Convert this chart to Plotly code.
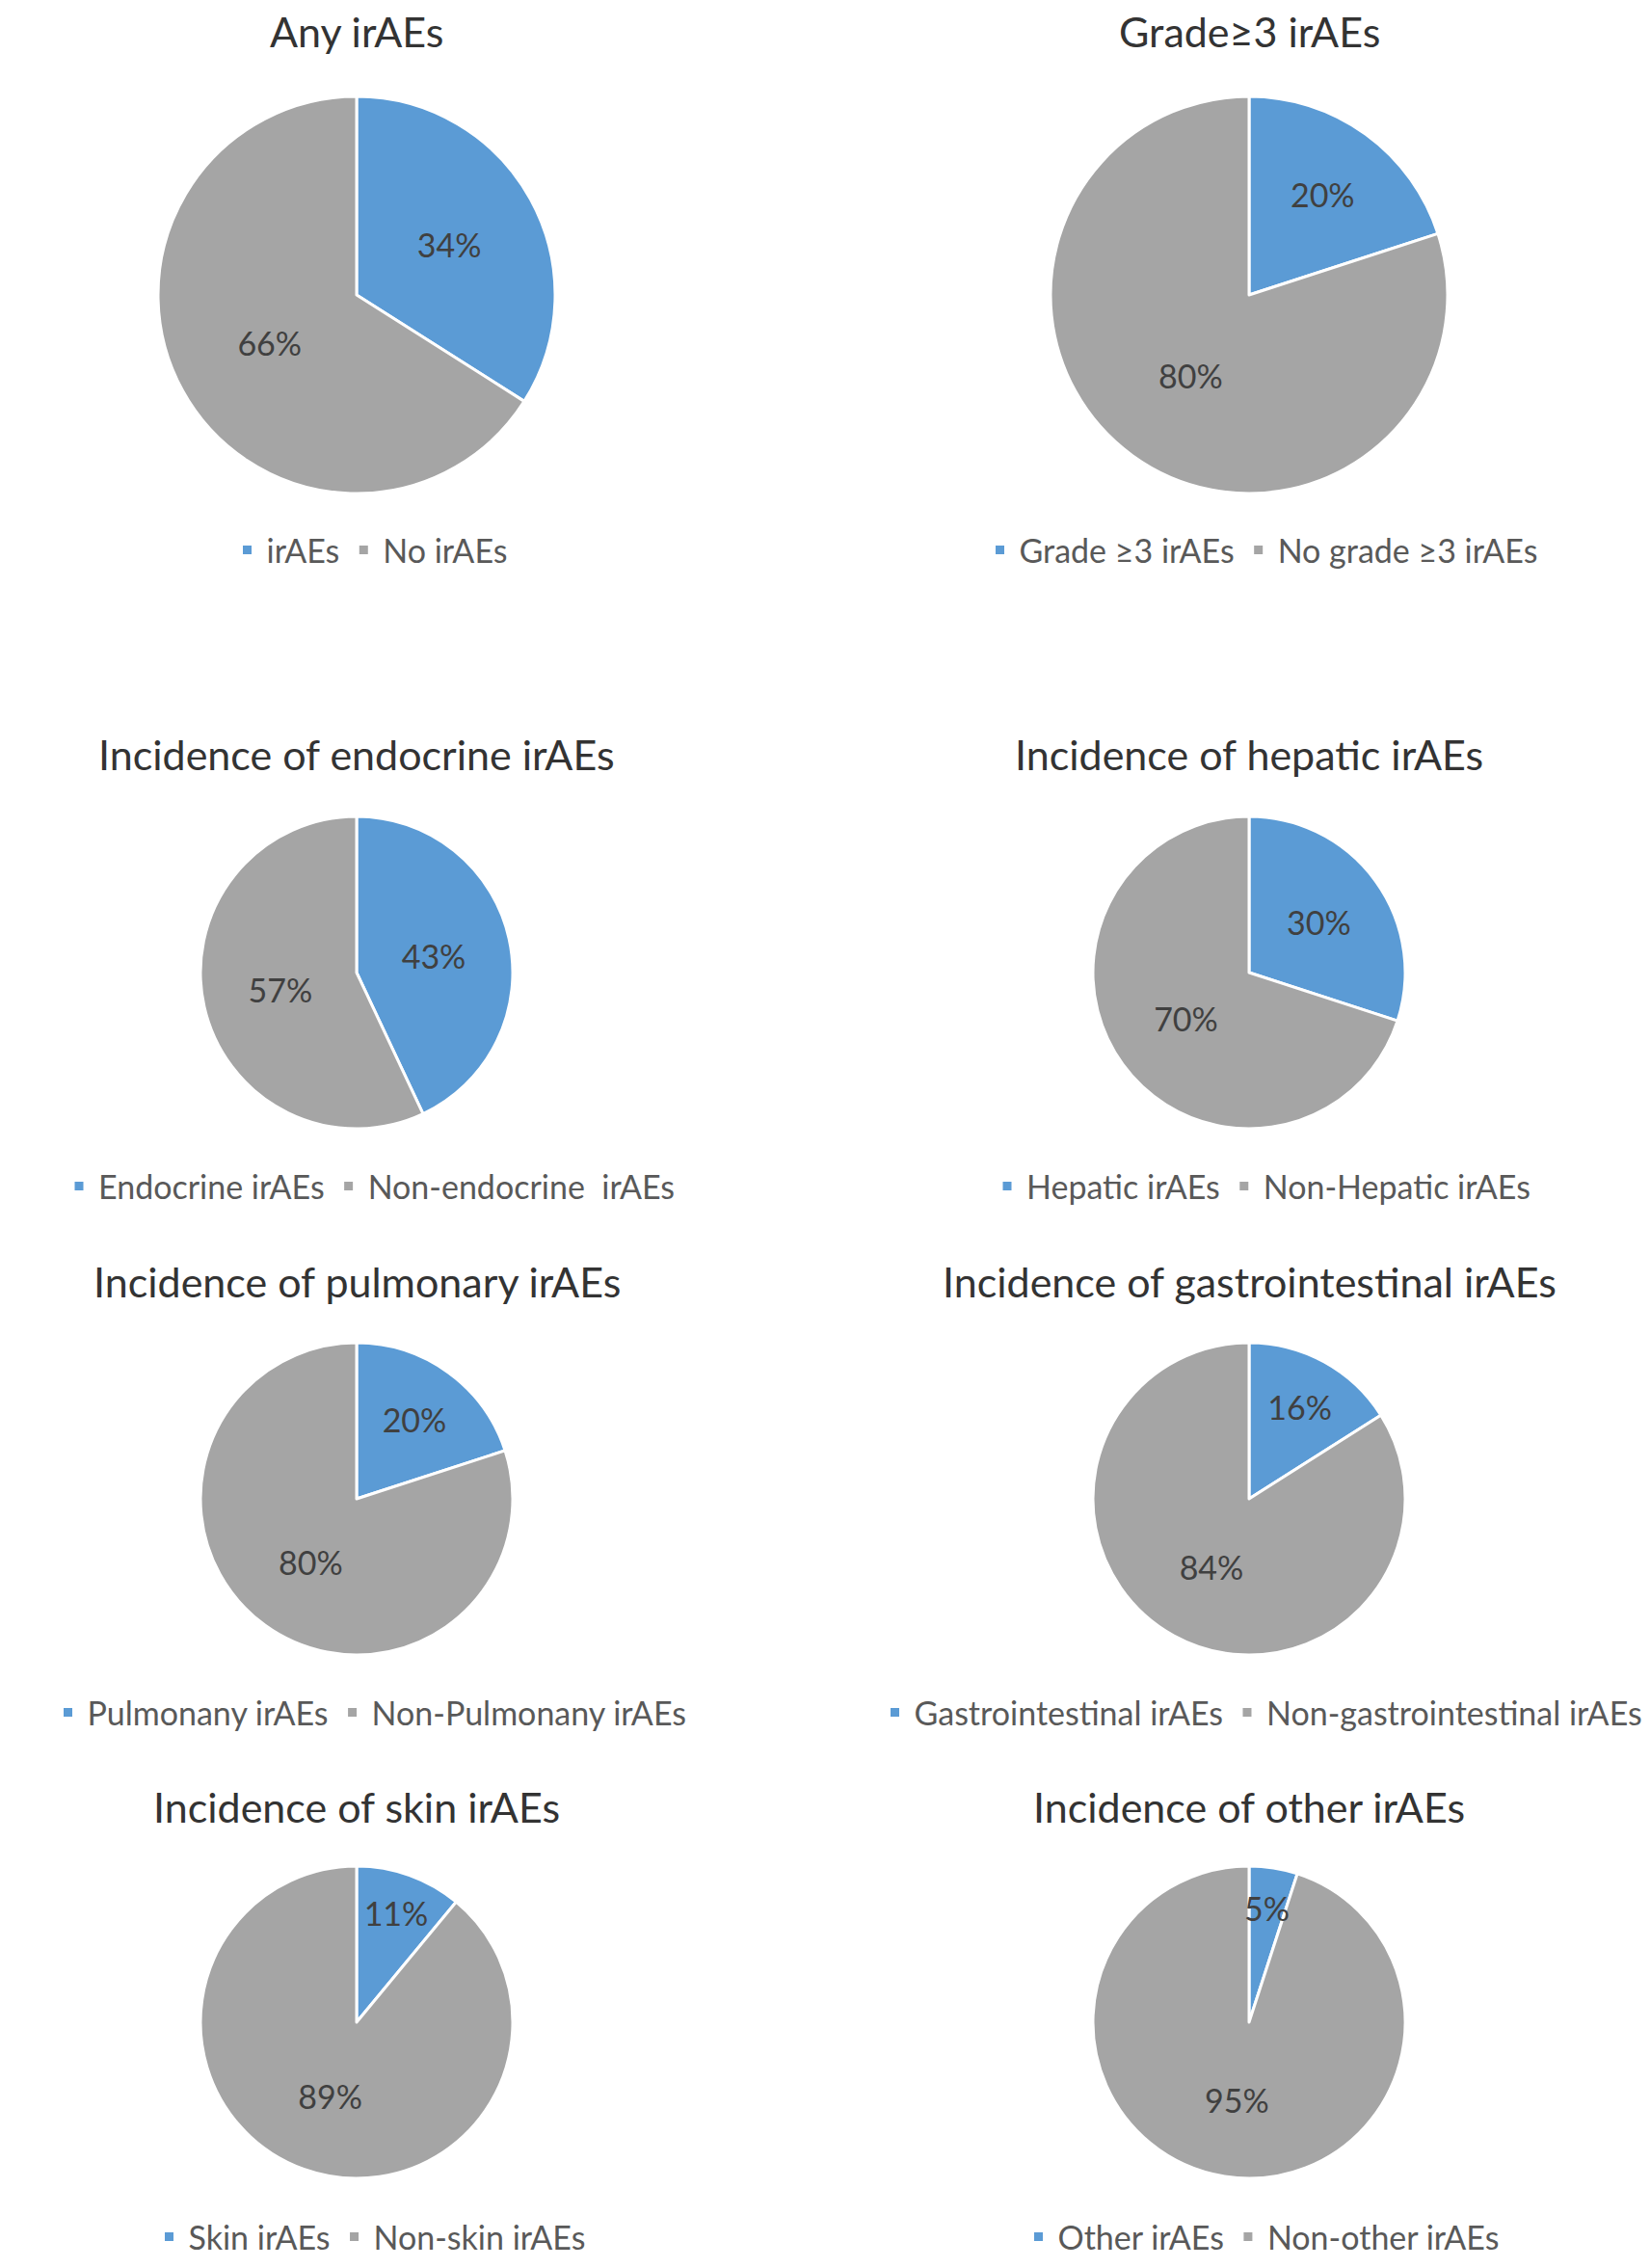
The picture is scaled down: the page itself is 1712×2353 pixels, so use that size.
import math
import plotly.graph_objects as go

# datos de cada panel (porcentajes)
titulos = [
    'Any irAEs', 'Grade≥3 irAEs',
    'Incidence of endocrine irAEs', 'Incidence of hepatic irAEs',
    'Incidence of pulmonary irAEs', 'Incidence of gastrointestinal irAEs',
    'Incidence of skin irAEs', 'Incidence of other irAEs',
]
etiquetas_si = [
    'irAEs', 'Grade ≥3 irAEs', 'Endocrine irAEs', 'Hepatic irAEs',
    'Pulmonany irAEs', 'Gastrointestinal irAEs', 'Skin irAEs', 'Other irAEs',
]
etiquetas_no = [
    'No irAEs', 'No grade ≥3 irAEs', 'Non-endocrine  irAEs', 'Non-Hepatic irAEs',
    'Non-Pulmonany irAEs', 'Non-gastrointestinal irAEs', 'Non-skin irAEs', 'Non-other irAEs',
]
pct_si = [34, 20, 43, 30, 20, 16, 11, 5]
pct_no = [66, 80, 57, 70, 80, 84, 89, 95]

# tamaño de la figura y ubicacion de cada panel (en pixeles)
W, H = 1712, 2353
col_x = [362, 1288]
leg_x = [376, 1301]
filas = [
    # (y titulo, y centro pie, radio, y leyenda)
    (24, 298, 206, 563),
    (774, 1001, 162, 1223),
    (1321, 1547, 162, 1769),
    (1866, 2090, 162, 2313),
]

AZUL = '#5B9BD5'
GRIS = '#A5A5A5'
FUENTE = 'Lato'
TAM_PCT = 34

fig = go.Figure()
anotaciones = []
leyendas = {}

for i in range(len(titulos)):
    fila = filas[i // 2]
    cx = col_x[i % 2]
    yt, cy, r, yl = fila
    nombre_leyenda = 'legend' if i == 0 else f'legend{i + 1}'

    # las porciones muy chicas llevan la etiqueta aparte para que no se achique
    chica = pct_si[i] < 8
    textos = ['' if chica else f'{pct_si[i]}%', f'{pct_no[i]}%']

    fig.add_trace(go.Pie(
        labels=[etiquetas_si[i], etiquetas_no[i]],
        values=[pct_si[i], pct_no[i]],
        text=textos,
        sort=False,
        direction='clockwise',
        rotation=0,
        marker=dict(colors=[AZUL, GRIS], line=dict(color='white', width=3)),
        textinfo='text',
        textposition='inside',
        insidetextorientation='horizontal',
        textfont=dict(family=FUENTE, size=TAM_PCT, color='#404040'),
        hoverinfo='label+value',
        domain=dict(
            x=[(cx - r) / W, (cx + r) / W],
            y=[1 - (cy + r) / H, 1 - (cy - r) / H],
        ),
        legend=nombre_leyenda,
        showlegend=True,
    ))

    if chica:
        ang = math.radians(90 - pct_si[i] / 100 * 360 / 2)
        anotaciones.append(dict(
            text=f'{pct_si[i]}%',
            x=(cx + 0.74 * r * math.cos(ang)) / W,
            y=1 - (cy - 0.74 * r * math.sin(ang)) / H,
            xref='paper', yref='paper', xanchor='center', yanchor='middle',
            showarrow=False,
            font=dict(family=FUENTE, size=TAM_PCT, color='#404040'),
        ))

    anotaciones.append(dict(
        text=titulos[i], x=cx / W, y=1 - yt / H,
        xref='paper', yref='paper', xanchor='center', yanchor='middle',
        showarrow=False,
        font=dict(family=FUENTE, size=43, color='#333333'),
    ))

    leyendas[nombre_leyenda] = dict(
        orientation='h',
        x=leg_x[i % 2] / W, y=1 - yl / H,
        xanchor='center', yanchor='middle',
        traceorder='normal',
        bgcolor='rgba(0,0,0,0)',
        font=dict(family=FUENTE, size=34, color='#595959'),
    )

fig.update_layout(
    width=W, height=H,
    margin=dict(l=0, r=0, t=0, b=0),
    paper_bgcolor='white',
    plot_bgcolor='white',
    annotations=anotaciones,
    **leyendas,
)

fig.write_html("out.html")
